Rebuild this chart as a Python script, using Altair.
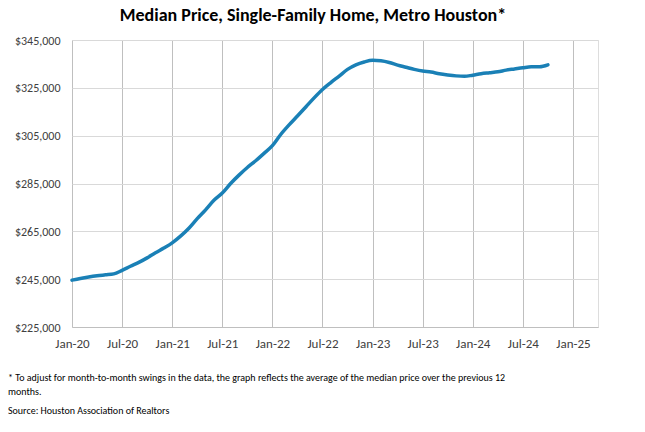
import altair as alt
import pandas as pd

# Month index 0 = Jan-20 ... 57 = Oct-24
months = list(range(58))
prices = [
    244600, 245300, 245900, 246400, 246800, 247200, 248700, 250400, 252000, 253900,
    256000, 258000, 260200, 263000, 266300, 270300, 274000, 278000, 281000, 285000,
    288500, 291700, 294500, 297600, 300800, 305500, 309500, 313200, 317000, 320800,
    324300, 327200, 329900, 332700, 334600, 335800, 336500, 336300, 335600, 334500,
    333600, 332700, 332000, 331600, 330900, 330400, 330000, 329800, 330300, 330900,
    331300, 331700, 332400, 332900, 333400, 333800, 333800, 334600,
]
tick_labels = ["Jan-20", "Jul-20", "Jan-21", "Jul-21", "Jan-22", "Jul-22",
               "Jan-23", "Jul-23", "Jan-24", "Jul-24", "Jan-25"]
y_ticks = [225000, 245000, 265000, 285000, 305000, 325000, 345000]

title_text = "Median Price, Single-Family Home, Metro Houston*"
note_line1 = "* To adjust for month-to-month swings in the data,  the graph reflects the average of the median price over the previous 12"
note_line2 = "months."
source_text = "Source: Houston Association of Realtors"

FONT = "Carlito, Lato, sans-serif"

df = pd.DataFrame({"m": months, "price": prices})

label_array = "[" + ",".join("'" + t + "'" for t in tick_labels) + "]"

W, H = 526, 287

line = alt.Chart(df).mark_line(
    color="#1a80b6", strokeWidth=3.5, interpolate="monotone", strokeCap="round"
).encode(
    x=alt.X("m:Q", scale=alt.Scale(domain=[0, 63], nice=False, zero=False),
            axis=alt.Axis(values=[i * 6 for i in range(len(tick_labels))],
                          labelExpr=label_array + "[round(datum.value/6)]",
                          title=None, grid=True, gridColor="#bfbfbf", gridWidth=1,
                          ticks=False, domain=True, domainColor="#bfbfbf",
                          labelFont=FONT, labelFontSize=13, labelColor="#404040",
                          labelPadding=10, labelFlush=False, labelOverlap=False)),
    y=alt.Y("price:Q", scale=alt.Scale(domain=[225000, 345000], nice=False, zero=False),
            axis=alt.Axis(values=y_ticks, format="$,.0f", title=None, grid=True,
                          gridColor="#d9d9d9", gridWidth=1, ticks=False, domain=False,
                          labelFont=FONT, labelFontSize=12, labelColor="#404040",
                          labelPadding=12)),
)


def text_layer(txt, x, y, font, size, weight="normal", align="left"):
    return alt.Chart(pd.DataFrame({"t": [txt]})).mark_text(
        font=font, fontSize=size, fontWeight=weight, color="#000000", align=align,
        baseline="alphabetic"
    ).encode(x=alt.value(x), y=alt.value(y), text="t:N")


title = text_layer(title_text, 241, -19, FONT, 18, weight="bold", align="center")
note1 = text_layer(note_line1, -64, 341, FONT, 10)
note2 = text_layer(note_line2, -64, 355, FONT, 10)
source = text_layer(source_text, -64, 374, FONT, 10)

chart = alt.layer(line, title, note1, note2, source).properties(
    width=W, height=H,
    autosize=alt.AutoSizeParams(type="none"),
    padding={"left": 64, "top": 32, "right": 30, "bottom": 90},
).configure_view(stroke=None).configure(background="white")

chart.save("out.html", embed_options={"renderer": "svg", "actions": False})
